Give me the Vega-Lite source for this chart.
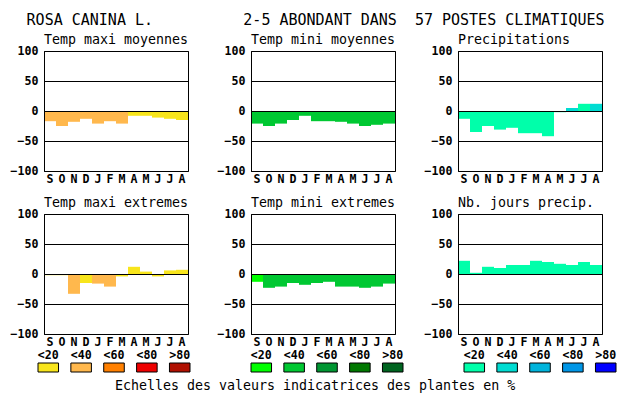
{
  "$schema": "https://vega.github.io/schema/vega-lite/v6.json",
  "background": "white",
  "padding": {"left": 9, "top": 13, "right": 5, "bottom": 2},
  "title": {
    "text": "ROSA CANINA L.\u00a0\u00a0\u00a0\u00a0\u00a0\u00a0\u00a0\u00a0\u00a0\u00a02-5 ABONDANT DANS\u00a0\u00a057 POSTES CLIMATIQUES",
    "anchor": "start",
    "font": "DejaVu Sans Mono",
    "fontSize": 15,
    "fontWeight": "normal",
    "color": "black",
    "dx": 17,
    "offset": 4
  },
  "datasets": {
    "bars": [
      {"p": "Temp maxi moyennes", "m": "Sept", "v": -17, "c": "max<40"},
      {"p": "Temp maxi moyennes", "m": "Oct", "v": -25, "c": "max<40"},
      {"p": "Temp maxi moyennes", "m": "Nov", "v": -18, "c": "max<40"},
      {"p": "Temp maxi moyennes", "m": "Dec", "v": -13, "c": "max<40"},
      {"p": "Temp maxi moyennes", "m": "Janv", "v": -21, "c": "max<40"},
      {"p": "Temp maxi moyennes", "m": "Fevr", "v": -17, "c": "max<40"},
      {"p": "Temp maxi moyennes", "m": "Mars", "v": -21, "c": "max<40"},
      {"p": "Temp maxi moyennes", "m": "Avril", "v": -8, "c": "max<20"},
      {"p": "Temp maxi moyennes", "m": "Mai", "v": -8, "c": "max<20"},
      {"p": "Temp maxi moyennes", "m": "Juin", "v": -11, "c": "max<20"},
      {"p": "Temp maxi moyennes", "m": "Juil", "v": -13, "c": "max<20"},
      {"p": "Temp maxi moyennes", "m": "Aout", "v": -15, "c": "max<20"},
      {"p": "Temp mini moyennes", "m": "Sept", "v": -21, "c": "min<40"},
      {"p": "Temp mini moyennes", "m": "Oct", "v": -25, "c": "min<40"},
      {"p": "Temp mini moyennes", "m": "Nov", "v": -21, "c": "min<40"},
      {"p": "Temp mini moyennes", "m": "Dec", "v": -15, "c": "min<40"},
      {"p": "Temp mini moyennes", "m": "Janv", "v": -8, "c": "min<40"},
      {"p": "Temp mini moyennes", "m": "Fevr", "v": -17, "c": "min<40"},
      {"p": "Temp mini moyennes", "m": "Mars", "v": -17, "c": "min<40"},
      {"p": "Temp mini moyennes", "m": "Avril", "v": -18, "c": "min<40"},
      {"p": "Temp mini moyennes", "m": "Mai", "v": -21, "c": "min<40"},
      {"p": "Temp mini moyennes", "m": "Juin", "v": -25, "c": "min<40"},
      {"p": "Temp mini moyennes", "m": "Juil", "v": -23, "c": "min<40"},
      {"p": "Temp mini moyennes", "m": "Aout", "v": -21, "c": "min<40"},
      {"p": "Precipitations", "m": "Sept", "v": -13, "c": "pre<20"},
      {"p": "Precipitations", "m": "Oct", "v": -35, "c": "pre<20"},
      {"p": "Precipitations", "m": "Nov", "v": -25, "c": "pre<20"},
      {"p": "Precipitations", "m": "Dec", "v": -31, "c": "pre<20"},
      {"p": "Precipitations", "m": "Janv", "v": -28, "c": "pre<20"},
      {"p": "Precipitations", "m": "Fevr", "v": -37, "c": "pre<20"},
      {"p": "Precipitations", "m": "Mars", "v": -37, "c": "pre<20"},
      {"p": "Precipitations", "m": "Avril", "v": -42, "c": "pre<20"},
      {"p": "Precipitations", "m": "Mai", "v": -2, "c": "pre<20"},
      {"p": "Precipitations", "m": "Juin", "v": 5, "c": "pre<40"},
      {"p": "Precipitations", "m": "Juil", "v": 12, "c": "pre<20"},
      {"p": "Precipitations", "m": "Aout", "v": 12, "c": "pre<40"},
      {"p": "Temp maxi extremes", "m": "Sept", "v": -2, "c": "max<20"},
      {"p": "Temp maxi extremes", "m": "Oct", "v": -2, "c": "max<20"},
      {"p": "Temp maxi extremes", "m": "Nov", "v": -33, "c": "max<40"},
      {"p": "Temp maxi extremes", "m": "Dec", "v": -15, "c": "max<20"},
      {"p": "Temp maxi extremes", "m": "Janv", "v": -16, "c": "max<40"},
      {"p": "Temp maxi extremes", "m": "Fevr", "v": -21, "c": "max<40"},
      {"p": "Temp maxi extremes", "m": "Mars", "v": -4, "c": "max<20"},
      {"p": "Temp maxi extremes", "m": "Avril", "v": 12, "c": "max<20"},
      {"p": "Temp maxi extremes", "m": "Mai", "v": 4, "c": "max<20"},
      {"p": "Temp maxi extremes", "m": "Juin", "v": -4, "c": "max<20"},
      {"p": "Temp maxi extremes", "m": "Juil", "v": 6, "c": "max<20"},
      {"p": "Temp maxi extremes", "m": "Aout", "v": 7, "c": "max<20"},
      {"p": "Temp mini extremes", "m": "Sept", "v": -13, "c": "min<20"},
      {"p": "Temp mini extremes", "m": "Oct", "v": -23, "c": "min<40"},
      {"p": "Temp mini extremes", "m": "Nov", "v": -21, "c": "min<40"},
      {"p": "Temp mini extremes", "m": "Dec", "v": -15, "c": "min<40"},
      {"p": "Temp mini extremes", "m": "Janv", "v": -18, "c": "min<40"},
      {"p": "Temp mini extremes", "m": "Fevr", "v": -15, "c": "min<40"},
      {"p": "Temp mini extremes", "m": "Mars", "v": -13, "c": "min<40"},
      {"p": "Temp mini extremes", "m": "Avril", "v": -21, "c": "min<40"},
      {"p": "Temp mini extremes", "m": "Mai", "v": -21, "c": "min<40"},
      {"p": "Temp mini extremes", "m": "Juin", "v": -23, "c": "min<40"},
      {"p": "Temp mini extremes", "m": "Juil", "v": -21, "c": "min<40"},
      {"p": "Temp mini extremes", "m": "Aout", "v": -16, "c": "min<40"},
      {"p": "Nb. jours precip.", "m": "Sept", "v": 22, "c": "pre<20"},
      {"p": "Nb. jours precip.", "m": "Oct", "v": 2, "c": "pre<20"},
      {"p": "Nb. jours precip.", "m": "Nov", "v": 12, "c": "pre<20"},
      {"p": "Nb. jours precip.", "m": "Dec", "v": 10, "c": "pre<20"},
      {"p": "Nb. jours precip.", "m": "Janv", "v": 15, "c": "pre<20"},
      {"p": "Nb. jours precip.", "m": "Fevr", "v": 15, "c": "pre<20"},
      {"p": "Nb. jours precip.", "m": "Mars", "v": 22, "c": "pre<20"},
      {"p": "Nb. jours precip.", "m": "Avril", "v": 20, "c": "pre<20"},
      {"p": "Nb. jours precip.", "m": "Mai", "v": 17, "c": "pre<20"},
      {"p": "Nb. jours precip.", "m": "Juin", "v": 15, "c": "pre<20"},
      {"p": "Nb. jours precip.", "m": "Juil", "v": 20, "c": "pre<20"},
      {"p": "Nb. jours precip.", "m": "Aout", "v": 15, "c": "pre<20"}
    ],
    "leg": [
      {"g": "max", "lab": "<20", "c": "max<20"},
      {"g": "max", "lab": "<40", "c": "max<40"},
      {"g": "max", "lab": "<60", "c": "max<60"},
      {"g": "max", "lab": "<80", "c": "max<80"},
      {"g": "max", "lab": ">80", "c": "max>80"},
      {"g": "min", "lab": "<20", "c": "min<20"},
      {"g": "min", "lab": "<40", "c": "min<40"},
      {"g": "min", "lab": "<60", "c": "min<60"},
      {"g": "min", "lab": "<80", "c": "min<80"},
      {"g": "min", "lab": ">80", "c": "min>80"},
      {"g": "pre", "lab": "<20", "c": "pre<20"},
      {"g": "pre", "lab": "<40", "c": "pre<40"},
      {"g": "pre", "lab": "<60", "c": "pre<60"},
      {"g": "pre", "lab": "<80", "c": "pre<80"},
      {"g": "pre", "lab": ">80", "c": "pre>80"}
    ]
  },
  "spacing": 0,
  "vconcat": [
    {
      "data": {"name": "bars"},
      "facet": {
        "field": "p",
        "type": "nominal",
        "sort": ["Temp maxi moyennes", "Temp mini moyennes", "Precipitations", "Temp maxi extremes", "Temp mini extremes", "Nb. jours precip."],
        "header": {
          "title": null,
          "labelAnchor": "start",
          "labelFont": "DejaVu Sans Mono",
          "labelFontSize": 13.3,
          "labelColor": "black",
          "labelPadding": -1
        }
      },
      "columns": 3,
      "spacing": {"row": 9, "column": 27},
      "resolve": {"axis": {"x": "independent", "y": "independent"}},
      "spec": {
        "width": 144,
        "height": 120,
        "mark": {"type": "bar"},
        "encoding": {
          "x": {
            "field": "m",
            "type": "ordinal",
            "sort": ["Sept", "Oct", "Nov", "Dec", "Janv", "Fevr", "Mars", "Avril", "Mai", "Juin", "Juil", "Aout"],
            "scale": {"paddingInner": 0, "paddingOuter": 0},
            "axis": {"labelExpr": "substring(datum.label, 0, 1)", "labelPadding": 2}
          },
          "y": {
            "field": "v",
            "type": "quantitative",
            "scale": {"domain": [-100, 100], "nice": false},
            "axis": {
              "values": [-100, -50, 0, 50, 100],
              "grid": true,
              "gridColor": "black",
              "gridOpacity": 1,
              "gridWidth": 1,
              "domain": true,
              "domainColor": "black",
              "zindex": 1,
              "labelPadding": 6
            }
          },
          "color": {
            "field": "c",
            "type": "nominal",
            "scale": {
              "domain": ["max<20", "max<40", "max<60", "max<80", "max>80", "min<20", "min<40", "min<60", "min<80", "min>80", "pre<20", "pre<40", "pre<60", "pre<80", "pre>80"],
              "range": ["#F8E51C", "#FFB84D", "#FF8000", "#EE0000", "#B01000", "#00FF00", "#00C832", "#009632", "#007800", "#006420", "#00FFAA", "#00DCD2", "#00B4DC", "#0096E6", "#0000FF"]
            },
            "legend": null
          }
        }
      }
    },
    {
      "data": {"name": "leg"},
      "facet": {
        "column": {
          "field": "g",
          "type": "nominal",
          "sort": ["max", "min", "pre"],
          "header": {"title": null, "labels": false}
        }
      },
      "spacing": 27,
      "resolve": {"axis": {"x": "independent", "y": "independent"}},
      "title": {
        "text": "Echelles des valeurs indicatrices des plantes en %",
        "orient": "bottom",
        "anchor": "middle",
        "font": "DejaVu Sans Mono",
        "fontSize": 13.3,
        "fontWeight": "normal",
        "color": "black",
        "offset": 1,
        "dx": -1
      },
      "spec": {
        "width": 144,
        "height": 9,
        "view": {"stroke": null},
        "mark": {"type": "bar", "stroke": "black", "strokeWidth": 1},
        "encoding": {
          "x": {
            "field": "lab",
            "type": "ordinal",
            "sort": ["<20", "<40", "<60", "<80", ">80"],
            "scale": {"range": [-6, 146], "paddingInner": 0.375, "paddingOuter": 0},
            "axis": {"orient": "top", "labelPadding": 3}
          },
          "y": {
            "datum": -100,
            "type": "quantitative",
            "scale": {"domain": [-100, 100], "nice": false},
            "axis": {"values": [-100], "labelColor": "transparent", "labelPadding": 6}
          },
          "y2": {"datum": 100},
          "color": {"field": "c", "type": "nominal", "legend": null}
        }
      }
    }
  ],
  "config": {
    "view": {"stroke": "black", "strokeWidth": 1},
    "font": "DejaVu Sans Mono",
    "axis": {
      "labelFont": "DejaVu Sans Mono",
      "labelFontWeight": "bold",
      "labelFontSize": 11.6,
      "labelColor": "black",
      "ticks": false,
      "domain": false,
      "title": null,
      "grid": false
    },
    "axisX": {"labelAngle": 0}
  }
}
